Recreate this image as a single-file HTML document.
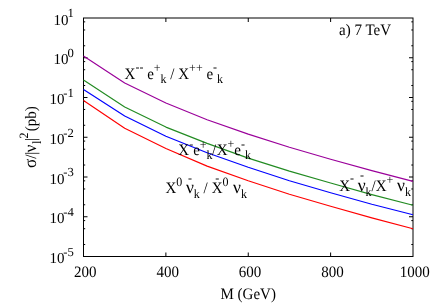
<!DOCTYPE html>
<html><head><meta charset="utf-8"><title>chart</title>
<style>
html,body{margin:0;padding:0;background:#fff;}
body{width:436px;height:305px;overflow:hidden;font-family:"Liberation Serif",serif;}
svg{display:block;will-change:transform;}
svg text{font-family:"Liberation Serif",serif;fill:#000;text-rendering:geometricPrecision;}
</style></head><body>
<svg width="436" height="305" viewBox="0 0 436 305">
<rect width="436" height="305" fill="#fff"/>
<g stroke="#000" stroke-width="1" fill="none">
<rect x="83.5" y="18.0" width="329.5" height="238.5"/>
<path d="M83.5 21.85h1.7M413.0 21.85h-1.7 M83.5 29.97h1.7M413.0 29.97h-1.7 M83.5 45.78h1.7M413.0 45.78h-1.7 M83.5 57.75h4M413.0 57.75h-4 M83.5 61.60h1.7M413.0 61.60h-1.7 M83.5 69.72h1.7M413.0 69.72h-1.7 M83.5 85.53h1.7M413.0 85.53h-1.7 M83.5 97.50h4M413.0 97.50h-4 M83.5 101.35h1.7M413.0 101.35h-1.7 M83.5 109.47h1.7M413.0 109.47h-1.7 M83.5 125.28h1.7M413.0 125.28h-1.7 M83.5 137.25h4M413.0 137.25h-4 M83.5 141.10h1.7M413.0 141.10h-1.7 M83.5 149.22h1.7M413.0 149.22h-1.7 M83.5 165.03h1.7M413.0 165.03h-1.7 M83.5 177.00h4M413.0 177.00h-4 M83.5 180.85h1.7M413.0 180.85h-1.7 M83.5 188.97h1.7M413.0 188.97h-1.7 M83.5 204.78h1.7M413.0 204.78h-1.7 M83.5 216.75h4M413.0 216.75h-4 M83.5 220.60h1.7M413.0 220.60h-1.7 M83.5 228.72h1.7M413.0 228.72h-1.7 M83.5 244.53h1.7M413.0 244.53h-1.7 M165.88 256.5v-4M165.88 18.0v4 M248.25 256.5v-4M248.25 18.0v4 M330.62 256.5v-4M330.62 18.0v4"/>
</g>
<polyline points="83.5,56.10 124.7,83.10 165.9,103.00 207.1,119.70 248.2,134.15 289.4,147.30 330.6,159.30 371.8,170.65 413.0,181.40" fill="none" stroke="#9a009a" stroke-width="1.15" stroke-linejoin="round"/>
<polyline points="83.5,80.05 124.7,106.90 165.9,127.10 207.1,143.40 248.2,158.10 289.4,171.10 330.6,182.95 371.8,194.60 413.0,205.30" fill="none" stroke="#228b22" stroke-width="1.15" stroke-linejoin="round"/>
<polyline points="83.5,89.50 124.7,116.00 165.9,136.20 207.1,152.70 248.2,167.30 289.4,180.80 330.6,192.70 371.8,204.20 413.0,214.70" fill="none" stroke="#0000ff" stroke-width="1.15" stroke-linejoin="round"/>
<polyline points="83.5,100.60 124.7,128.30 165.9,148.50 207.1,166.10 248.2,180.70 289.4,194.20 330.6,206.30 371.8,217.85 413.0,228.70" fill="none" stroke="#ff0000" stroke-width="1.15" stroke-linejoin="round"/>
<text transform="translate(73.80 17.30) scale(1.06 1.028)" font-size="12" text-anchor="end">1</text><text transform="translate(68.40 24.60) scale(1 1.007)" font-size="15" text-anchor="end">10</text>
<text transform="translate(73.80 57.05) scale(1.06 1.028)" font-size="12" text-anchor="end">0</text><text transform="translate(68.40 64.35) scale(1 1.007)" font-size="15" text-anchor="end">10</text>
<text transform="translate(73.80 96.80) scale(1.06 1.028)" font-size="12" text-anchor="end">-1</text><text transform="translate(64.40 104.10) scale(1 1.007)" font-size="15" text-anchor="end">10</text>
<text transform="translate(73.80 136.55) scale(1.06 1.028)" font-size="12" text-anchor="end">-2</text><text transform="translate(64.40 143.85) scale(1 1.007)" font-size="15" text-anchor="end">10</text>
<text transform="translate(73.80 176.30) scale(1.06 1.028)" font-size="12" text-anchor="end">-3</text><text transform="translate(64.40 183.60) scale(1 1.007)" font-size="15" text-anchor="end">10</text>
<text transform="translate(73.80 216.05) scale(1.06 1.028)" font-size="12" text-anchor="end">-4</text><text transform="translate(64.40 223.35) scale(1 1.007)" font-size="15" text-anchor="end">10</text>
<text transform="translate(73.80 255.80) scale(1.06 1.028)" font-size="12" text-anchor="end">-5</text><text transform="translate(64.40 263.10) scale(1 1.007)" font-size="15" text-anchor="end">10</text>
<text transform="translate(85.30 277.30) scale(1 1.06)" font-size="15" text-anchor="middle">200</text>
<text transform="translate(167.68 277.30) scale(1 1.06)" font-size="15" text-anchor="middle">400</text>
<text transform="translate(250.05 277.30) scale(1 1.06)" font-size="15" text-anchor="middle">600</text>
<text transform="translate(332.43 277.30) scale(1 1.06)" font-size="15" text-anchor="middle">800</text>
<text transform="translate(414.80 277.30) scale(1 1.06)" font-size="15" text-anchor="middle">1000</text>
<text transform="translate(248.20 299.40) scale(1 1.06)" font-size="15" text-anchor="middle">M (GeV)</text>
<text transform="translate(339.00 35.00) scale(1 1.06)" font-size="15">a) 7 TeV</text>
<g transform="translate(36.0 167.90) rotate(-90)"><text transform="translate(0.00 0.00) scale(1 1.06)" font-size="17">σ</text><text transform="translate(9.20 0.00) scale(1 1.06)" font-size="15">/</text><text transform="translate(13.15 0.00) scale(1 1.06)" font-size="15">|</text><text transform="translate(15.50 0.00) scale(1.17 1.187)" font-size="15">ν</text><text transform="translate(23.90 4.60) scale(1 1.06)" font-size="12">l</text><text transform="translate(26.80 0.00) scale(1 1.06)" font-size="15">|</text><text transform="translate(29.50 -7.80) scale(1 1.06)" font-size="12">2</text><text transform="translate(36.60 0.00) scale(1 1.06)" font-size="15">(pb)</text></g>
<text transform="translate(124.60 78.70) scale(1 1.06)" font-size="15">X</text><text transform="translate(135.43 71.20) scale(1 1.06)" font-size="12">--</text><text transform="translate(147.18 78.70) scale(1 1.06)" font-size="15">e</text><text transform="translate(153.84 71.60) scale(1 1.06)" font-size="12">+</text><text transform="translate(160.61 83.30) scale(1 1.06)" font-size="12">k</text><text transform="translate(170.36 78.70) scale(1 1.06)" font-size="15">/</text><text transform="translate(178.28 78.70) scale(1 1.06)" font-size="15">X</text><text transform="translate(189.11 71.60) scale(1 1.06)" font-size="12">++</text><text transform="translate(206.40 78.70) scale(1 1.06)" font-size="15">e</text><text transform="translate(213.06 71.20) scale(1 1.06)" font-size="12">-</text><text transform="translate(217.06 83.30) scale(1 1.06)" font-size="12">k</text>
<text transform="translate(178.30 154.50) scale(1 1.06)" font-size="15">X</text><text transform="translate(189.13 148.10) scale(1 1.06)" font-size="12">-</text><text transform="translate(193.13 154.50) scale(1 1.06)" font-size="15">e</text><text transform="translate(199.79 148.90) scale(1 1.06)" font-size="12">+</text><text transform="translate(206.56 159.10) scale(1 1.06)" font-size="12">k</text><text transform="translate(211.96 154.50) scale(1 1.06)" font-size="15">/</text><text transform="translate(216.73 154.50) scale(1 1.06)" font-size="15">X</text><text transform="translate(227.56 148.45) scale(1 1.06)" font-size="12">+</text><text transform="translate(234.33 154.50) scale(1 1.06)" font-size="15">e</text><text transform="translate(240.99 148.10) scale(1 1.06)" font-size="12">-</text><text transform="translate(244.99 159.10) scale(1 1.06)" font-size="12">k</text>
<text transform="translate(165.40 192.90) scale(1 1.06)" font-size="15">X</text><text transform="translate(176.23 185.80) scale(1 1.06)" font-size="12">0</text><text transform="translate(185.98 192.90) scale(1.17 1.187)" font-size="15">ν</text><text transform="translate(188.08 181.90) scale(1 1.06)" font-size="12">-</text><text transform="translate(193.78 197.50) scale(1 1.06)" font-size="12">k</text><text transform="translate(203.53 192.90) scale(1 1.06)" font-size="15">/</text><text transform="translate(211.75 192.90) scale(1 1.06)" font-size="15">X</text><text transform="translate(215.25 181.90) scale(1 1.06)" font-size="12">-</text><text transform="translate(222.58 185.80) scale(1 1.06)" font-size="12">0</text><text transform="translate(232.93 192.90) scale(1.17 1.187)" font-size="15">ν</text><text transform="translate(240.93 197.50) scale(1 1.06)" font-size="12">k</text>
<text transform="translate(339.20 191.00) scale(1 1.06)" font-size="15">X</text><text transform="translate(350.03 182.40) scale(1 1.06)" font-size="12">-</text><text transform="translate(357.78 191.00) scale(1.17 1.187)" font-size="15">ν</text><text transform="translate(359.88 179.10) scale(1 1.06)" font-size="12">-</text><text transform="translate(365.58 195.60) scale(1 1.06)" font-size="12">k</text><text transform="translate(371.58 191.00) scale(1 1.06)" font-size="15">/</text><text transform="translate(375.75 191.00) scale(1 1.06)" font-size="15">X</text><text transform="translate(386.58 183.90) scale(1 1.06)" font-size="12">+</text><text transform="translate(397.10 191.00) scale(1.17 1.187)" font-size="15">ν</text><text transform="translate(404.90 195.60) scale(1 1.06)" font-size="12">k</text>
</svg>
</body></html>
